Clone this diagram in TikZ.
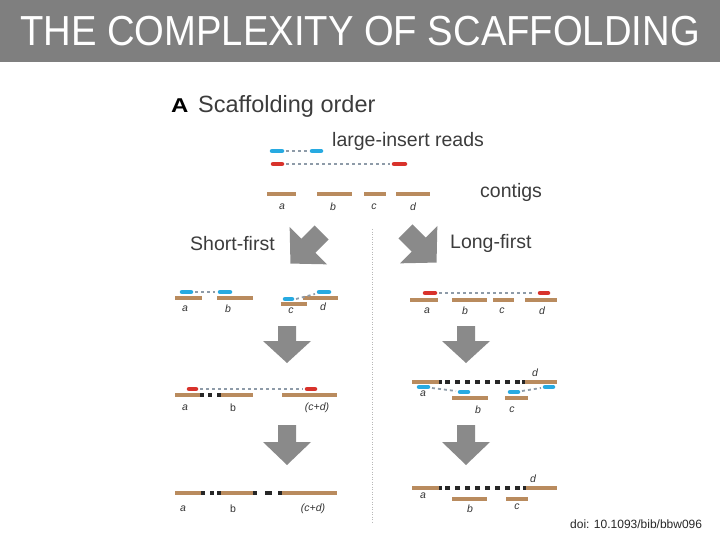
\documentclass[tikz,border=0pt]{standalone}
\usepackage{fontspec}
\setmainfont{Liberation Sans}
\usepackage{graphicx}
\definecolor{titlegray}{HTML}{7F7F7F}
\definecolor{contigc}{HTML}{B98B5E}
\definecolor{readblue}{HTML}{27AAE1}
\definecolor{readred}{HTML}{D8322B}
\definecolor{dashgray}{HTML}{8E9BA8}
\definecolor{arrowgray}{HTML}{8A8A8A}
\definecolor{textgray}{HTML}{3C3C3C}
\begin{document}
\begin{tikzpicture}[x=1pt,y=-1pt,
  contig/.style={draw=contigc,line width=4pt},
  bread/.style={draw=readblue,line width=4.5pt,line cap=round},
  rread/.style={draw=readred,line width=4.5pt,line cap=round},
  gdash/.style={draw=dashgray,line width=1.8pt,dash pattern=on 3pt off 3pt},
  kdash/.style={draw=black!85,line width=3.5pt,dash pattern=on 5pt off 5pt},
  kdot/.style={fill=black!85,draw=none},
  lab/.style={font=\fontsize{10.5}{11}\selectfont\itshape,text=black!80,inner sep=0pt},
  labup/.style={font=\fontsize{10.5}{11}\selectfont,text=black!80,inner sep=0pt},
  bigtext/.style={font=\fontsize{19.5}{22}\selectfont,text=textgray,inner sep=0pt},
  bigarrow/.style={fill=arrowgray,draw=none},
  sep/.style={draw=gray!55,line width=1pt,dash pattern=on 1pt off 1.5pt}]
\useasboundingbox (0,0) rectangle (720,540);
% title bar
\fill[titlegray] (0,0) rectangle (720,62);
\node[text=white,inner sep=0pt] (title) at (360,31)
  {\fontsize{42}{48}\selectfont\scalebox{0.91}[1]{THE COMPLEXITY OF SCAFFOLDING}};
% heading
\node[anchor=base west,inner sep=0pt] (A) at (171,113) {\fontsize{20}{22}\selectfont\bfseries\scalebox{1.2}[1]{A}};
\node[anchor=base west,inner sep=0pt,text=textgray] (head) at (198,113) {\fontsize{23.5}{26}\selectfont Scaffolding order};
\node[bigtext,anchor=base west] (lir) at (332,146.5) {large-insert reads};
\node[bigtext,anchor=base west] (ctg) at (480,198) {contigs};
% legend reads
\draw[bread] (272,151) -- (282,151);
\draw[gdash] (286,151) -- (307,151);
\draw[bread] (312,151) -- (321,151);
\draw[rread] (273,164) -- (282,164);
\draw[gdash] (286,164) -- (390,164);
\draw[rread] (394,164) -- (405,164);
% contigs
\draw[contig] (267,194) -- (296,194);
\draw[contig] (317,194) -- (352,194);
\draw[contig] (364,194) -- (386,194);
\draw[contig] (396,194) -- (430,194);
\node[lab] (ta) at (282,207) {a};
\node[lab] (tb) at (333,207) {b};
\node[lab] (tc) at (374,207) {c};
\node[lab] (td) at (413,207) {d};
% branch labels
\node[bigtext,anchor=base west] (sf) at (190,251) {Short-first};
\node[bigtext,anchor=base west] (lf) at (450,248) {Long-first};
% diagonal arrows
\begin{scope}[shift={(306,248)},rotate=-45,scale=1.1]
\fill[bigarrow] (-9,-20) -- (9,-20) -- (9,-3) -- (24,-3) -- (0,20) -- (-24,-3) -- (-9,-3) -- cycle;
\end{scope}
\begin{scope}[shift={(421,247)},rotate=45,scale=1.1]
\fill[bigarrow] (-9,-20) -- (9,-20) -- (9,-3) -- (24,-3) -- (0,20) -- (-24,-3) -- (-9,-3) -- cycle;
\end{scope}
% separator
\draw[sep] (372,229) -- (372,524);
% down arrows
\foreach \c in {287,466}{
  \fill[bigarrow] (\c-9,326) -- (\c+9,326) -- (\c+9,341) -- (\c+24,341) -- (\c,363) -- (\c-24,341) -- (\c-9,341) -- cycle;
  \fill[bigarrow] (\c-9,425) -- (\c+9,425) -- (\c+9,442) -- (\c+24,442) -- (\c,465) -- (\c-24,442) -- (\c-9,442) -- cycle;
}
% ---- Left row 1
\draw[bread] (182,292) -- (191,292);
\draw[gdash] (195,292) -- (215,292);
\draw[bread] (220,292) -- (230,292);
\draw[contig] (175,298) -- (202,298);
\draw[contig] (217,298) -- (253,298);
\node[lab] at (185,309) {a};
\node[lab] at (228,309) {b};
\draw[contig] (281,304) -- (307,304);
\draw[bread] (285,299) -- (292,299);
\draw[contig] (303,298) -- (338,298);
\draw[gdash] (296,299) -- (315,294);
\draw[bread] (319,292) -- (329,292);
\node[lab] at (291,311) {c};
\node[lab] at (323,307) {d};
% ---- Right row 1
\draw[rread] (425,293) -- (435,293);
\draw[gdash] (439,293) -- (535,293);
\draw[rread] (540,293) -- (548,293);
\draw[contig] (410,300) -- (438,300);
\draw[contig] (452,300) -- (487,300);
\draw[contig] (493,300) -- (514,300);
\draw[contig] (525,300) -- (557,300);
\node[lab] at (427,311) {a};
\node[lab] at (465,311) {b};
\node[lab] at (502,311) {c};
\node[lab] at (542,311) {d};
% ---- Left row 2
\draw[rread] (189,389) -- (196,389);
\draw[gdash] (200,389) -- (303,389);
\draw[rread] (307,389) -- (315,389);
\draw[contig] (175,395) -- (202,395);
\draw[contig] (219,395) -- (253,395);
\draw[contig] (282,395) -- (337,395);
\foreach \x in {202,210,219}{\fill[kdot] (\x-1.6,393.4) rectangle (\x+1.6,396.6);}
\node[lab] at (185,408) {a};
\node[labup] at (233,408) {b};
\node[lab] at (317,408) {(c+d)};
% ---- Right row 2
\draw[contig] (412,382) -- (440,382);
\draw[kdash] (445,382) -- (520,382);
\draw[contig] (523,382) -- (557,382);
\fill[kdot] (438.5,380.4) rectangle (441.5,383.6);
\fill[kdot] (521.5,380.4) rectangle (524.5,383.6);
\node[lab] at (535,373) {d};
\draw[bread] (419,387) -- (428,387);
\draw[gdash] (432,388) -- (456,391);
\draw[bread] (460,392) -- (468,392);
\draw[contig] (452,398) -- (488,398);
\draw[bread] (510,392) -- (518,392);
\draw[gdash] (522,391) -- (541,388);
\draw[bread] (545,387) -- (553,387);
\draw[contig] (505,398) -- (528,398);
\node[lab] at (423,394) {a};
\node[lab] at (478,410) {b};
\node[lab] at (512,410) {c};
% ---- Left row 3
\draw[contig] (175,493) -- (203,493);
\draw[contig] (219,493) -- (253,493);
\draw[contig] (280,493) -- (337,493);
\foreach \x in {203,212,219,255,280}{\fill[kdot] (\x-1.6,491.4) rectangle (\x+1.6,494.6);}
\fill[kdot] (265,491.2) rectangle (272,494.8);
\node[lab] at (183,509) {a};
\node[labup] at (233,509) {b};
\node[lab] at (313,509) {(c+d)};
% ---- Right row 3
\draw[contig] (412,488) -- (440,488);
\draw[kdash] (445,488) -- (520,488);
\draw[contig] (525,488) -- (557,488);
\fill[kdot] (438.5,486.4) rectangle (441.5,489.6);
\fill[kdot] (522.5,486.4) rectangle (525.5,489.6);
\node[lab] at (533,479) {d};
\node[lab] at (423,496) {a};
\draw[contig] (452,499) -- (487,499);
\draw[contig] (506,499) -- (528,499);
\node[lab] at (470,509) {b};
\node[lab] at (517,507) {c};
% doi
\node[anchor=base west,inner sep=0pt,text=black!85] (doi) at (570,528) {\fontsize{12}{14}\selectfont doi: 10.1093/bib/bbw096};
\end{tikzpicture}
\end{document}
